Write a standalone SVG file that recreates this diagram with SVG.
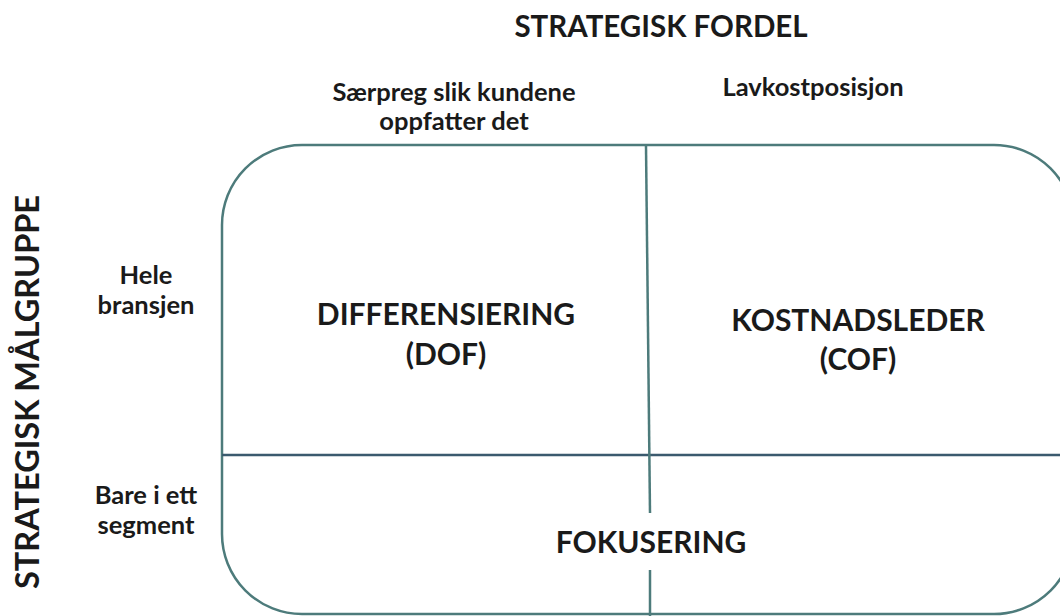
<svg xmlns="http://www.w3.org/2000/svg" width="1060" height="616" viewBox="0 0 1060 616">
  <style>
    text { font-family: Lato, "Open Sans", "Liberation Sans", sans-serif; font-weight: bold; fill: #1a1a1a; text-anchor: middle; }
    .axis { font-size: 29.5px; }
    .vaxis { font-size: 32.5px; }
    .sub { font-size: 25.5px; }
    .big { font-size: 30px; }
    .frame { fill: none; stroke: #4d7b7b; stroke-width: 2.5; }
    .hline { stroke: #3b5a6e; stroke-width: 2.5; }
    .vline { stroke: #4d7b7b; stroke-width: 2.5; }
  </style>
  <rect width="1060" height="616" fill="#ffffff"/>

  <!-- axis titles -->
  <g id="axis-top">
    <text class="axis" x="661" y="37">STRATEGISK FORDEL</text>
    <text class="sub" x="454" y="101">Særpreg slik kundene</text>
    <text class="sub" x="454" y="130">oppfatter det</text>
    <text class="sub" x="813" y="96">Lavkostposisjon</text>
  </g>
  <g id="axis-left">
    <text class="vaxis" transform="translate(39 392) rotate(-90)">STRATEGISK MÅLGRUPPE</text>
    <text class="sub" x="146" y="284">Hele</text>
    <text class="sub" x="146" y="314">bransjen</text>
    <text class="sub" x="146" y="504">Bare i ett</text>
    <text class="sub" x="146" y="534">segment</text>
  </g>

  <!-- matrix frame and dividers -->
  <g id="grid">
    <rect class="frame" x="222" y="145" width="852" height="469" rx="80" ry="80"/>
    <line class="hline" x1="222" y1="455" x2="1060" y2="455"/>
    <line class="vline" x1="646" y1="146" x2="650" y2="513"/>
    <line class="vline" x1="650" y1="570" x2="650" y2="616"/>
  </g>

  <!-- quadrants -->
  <g id="differensiering">
    <text class="big" x="446" y="325">DIFFERENSIERING</text>
    <text class="big" x="446" y="365">(DOF)</text>
  </g>
  <g id="kostnadsleder">
    <text class="big" x="858" y="331">KOSTNADSLEDER</text>
    <text class="big" x="858" y="370">(COF)</text>
  </g>
  <g id="fokusering">
    <text class="big" x="651" y="553">FOKUSERING</text>
  </g>
</svg>
